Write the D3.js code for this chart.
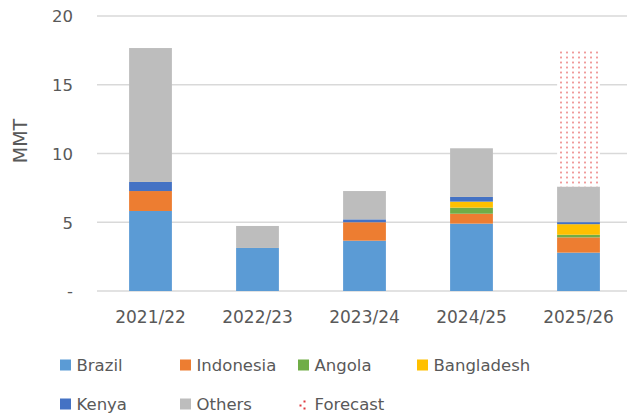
<!DOCTYPE html>
<html>
<head>
<meta charset="utf-8">
<script src="https://cdn.jsdelivr.net/npm/d3@7"></script>
<style>
  html, body { margin: 0; padding: 0; background: #fff; }
  svg { display: block; }
  text { font-family: "DejaVu Sans", sans-serif; fill: #595959; }
</style>
</head>
<body>
<svg id="chart" width="627" height="419"></svg>
<script>
const categories = ["2021/22", "2022/23", "2023/24", "2024/25", "2025/26"];
const brazil     = [5.82, 3.13, 3.66, 4.90, 2.79];
const indonesia  = [1.45, 0.00, 1.34, 0.72, 1.11];
const angola     = [0.00, 0.00, 0.00, 0.44, 0.19];
const bangladesh = [0.00, 0.00, 0.00, 0.44, 0.77];
const kenya      = [0.66, 0.00, 0.21, 0.34, 0.15];
const others     = [9.74, 1.60, 2.06, 3.54, 2.59];
const forecast   = [0, 0, 0, 0, 9.95];
const yTicks = [0, 5, 10, 15, 20];

const seriesNames = ["Brazil", "Indonesia", "Angola", "Bangladesh", "Kenya", "Others", "Forecast"];
const seriesData = [brazil, indonesia, angola, bangladesh, kenya, others, forecast];
const colors = {
  Brazil: "#5b9bd5", Indonesia: "#ed7d31", Angola: "#70ad47",
  Bangladesh: "#ffc000", Kenya: "#4472c4", Others: "#bdbdbd", Forecast: "url(#dots)"
};

const rows = categories.map((c, i) => {
  const r = { cat: c };
  seriesNames.forEach((s, j) => r[s] = seriesData[j][i]);
  return r;
});

const svg = d3.select("#chart");
const defs = svg.append("defs");
const pat = defs.append("pattern").attr("id", "dots")
  .attr("patternUnits", "userSpaceOnUse").attr("width", 6).attr("height", 5);
pat.append("rect").attr("width", 6).attr("height", 5).attr("fill", "#fff");
pat.append("rect").attr("x", 2).attr("y", 1.5).attr("width", 2).attr("height", 2).attr("fill", "#f4adad");
pat.append("rect").attr("x", 2.5).attr("y", 2).attr("width", 1).attr("height", 1).attr("fill", "#ec8a8a");

const x = d3.scaleBand().domain(categories).range([97, 632]).paddingInner(0.6).paddingOuter(0.3);
const y = d3.scaleLinear().domain([0, 20]).range([291, 16]);

// gridlines
svg.append("g").selectAll("line").data(yTicks).join("line")
  .attr("x1", 97).attr("x2", 627)
  .attr("y1", d => y(d)).attr("y2", d => y(d))
  .attr("stroke", "#d9d9d9").attr("stroke-width", 1.5);

// y axis labels
const yAxis = d3.axisLeft(y).tickValues(yTicks).tickSize(0).tickPadding(0)
  .tickFormat(d => d === 0 ? "-" : d3.format("d")(d));
const yg = svg.append("g").attr("transform", "translate(73,0)").call(yAxis);
yg.select(".domain").remove();
yg.selectAll("text").style("font-size", "16.5px").attr("fill", "#595959")
  .style("font-family", "DejaVu Sans, sans-serif").attr("dy", "0.35em");

// y title
svg.append("text").attr("transform", "translate(27,141) rotate(-90)")
  .attr("text-anchor", "middle").style("font-size", "19px").text("MMT");

// stacked bars
const stack = d3.stack().keys(seriesNames)(rows);
svg.append("g").selectAll("g").data(stack).join("g")
  .attr("fill", d => colors[d.key])
  .selectAll("rect").data(d => d).join("rect")
  .attr("x", d => x(d.data.cat))
  .attr("width", x.bandwidth())
  .attr("y", d => y(d[1]))
  .attr("height", d => Math.max(0, y(d[0]) - y(d[1])));

// x axis labels
const xAxis = d3.axisBottom(x).tickSize(0).tickPadding(0);
const xg = svg.append("g").attr("transform", "translate(0,317)").call(xAxis);
xg.select(".domain").remove();
xg.selectAll("text").style("font-size", "17px").attr("fill", "#595959")
  .style("font-family", "DejaVu Sans, sans-serif").attr("dy", "0.35em");

// legend
const legendPos = [
  { k: "Brazil", x: 60, y: 365 }, { k: "Indonesia", x: 180, y: 365 },
  { k: "Angola", x: 298, y: 365 }, { k: "Bangladesh", x: 417, y: 365 },
  { k: "Kenya", x: 60, y: 404 }, { k: "Others", x: 180, y: 404 },
  { k: "Forecast", x: 298, y: 404 }
];
const lg = svg.append("g").selectAll("g").data(legendPos).join("g")
  .attr("transform", d => `translate(${d.x},${d.y})`);
lg.filter(d => d.k !== "Forecast").append("rect")
  .attr("x", 0).attr("y", -5.5).attr("width", 11).attr("height", 11)
  .attr("fill", d => colors[d.k]);
const fl = lg.filter(d => d.k === "Forecast");
[[2.5, 1.5], [6.5, -2.5], [6.5, 4.5]].forEach(p => {
  fl.append("rect").attr("x", p[0] - 1).attr("y", p[1] - 1).attr("width", 2).attr("height", 2).attr("fill", "#e0393e");
});
lg.append("text").attr("x", 16.5).attr("y", 0).attr("dy", "0.35em")
  .style("font-size", "16.5px").text(d => d.k);
</script>
</body>
</html>
